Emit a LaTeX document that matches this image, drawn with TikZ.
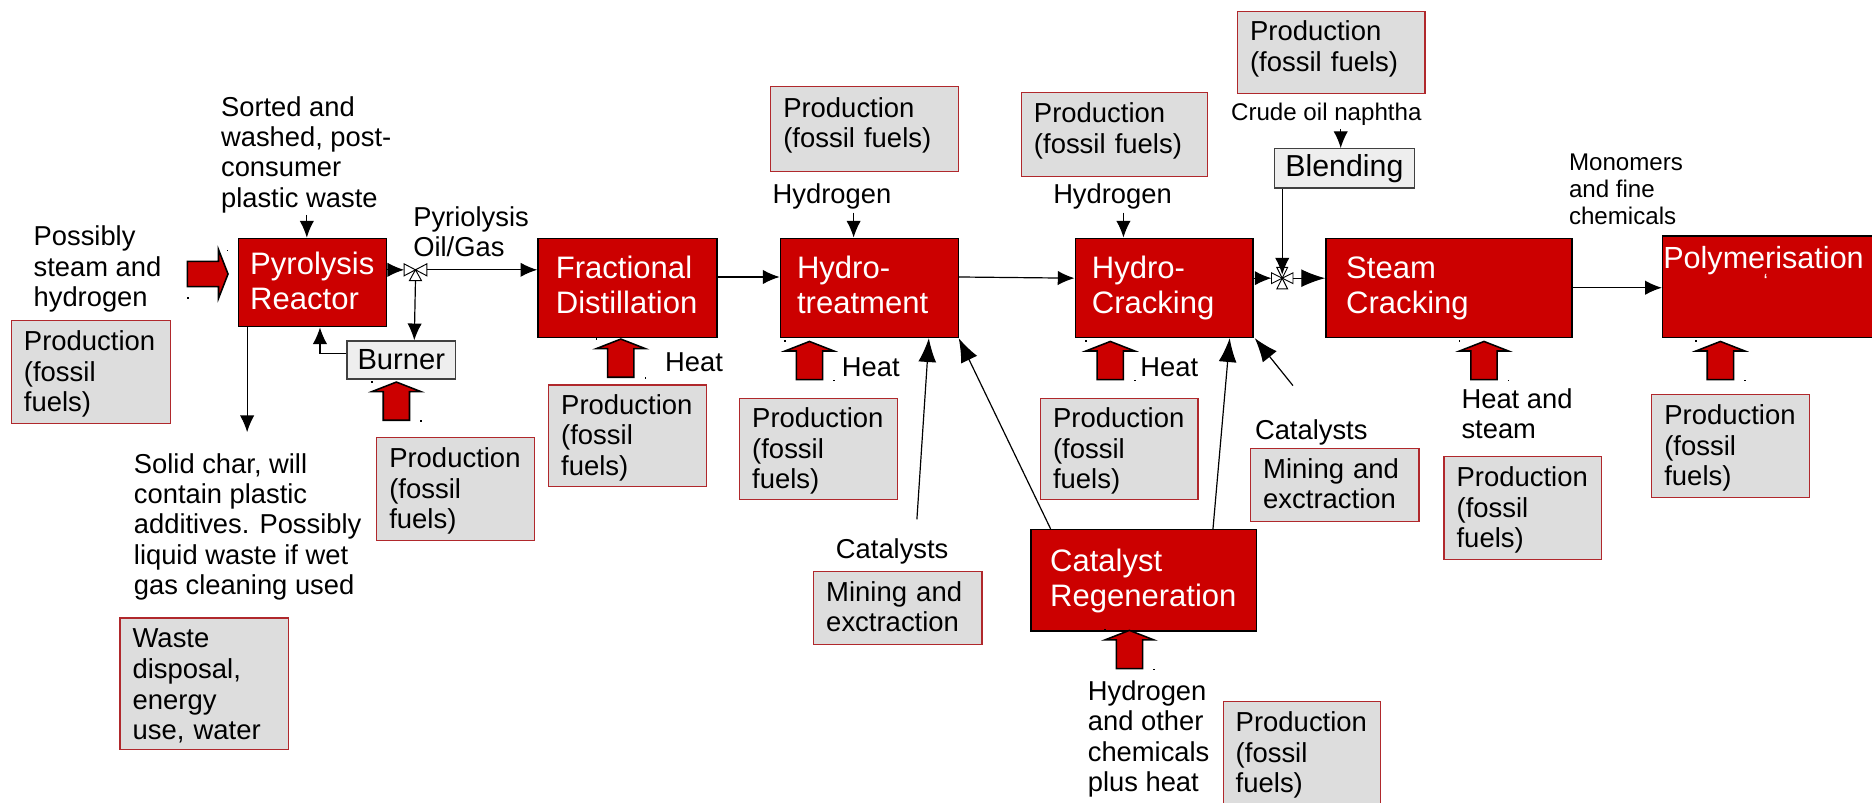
\documentclass[tikz,border=0pt]{standalone}
\usepackage{fontspec}
\setmainfont{Liberation Sans}
\usetikzlibrary{arrows.meta}
\definecolor{procred}{HTML}{CC0000}
\definecolor{prodgrey}{HTML}{DDDDDD}
\definecolor{prodedge}{HTML}{B0282C}
\definecolor{lightbox}{HTML}{EEEEEE}
\newcommand{\FT}[5][]{\node[txt,#1] (#2) at (#3,#4-18) {\rule{0pt}{18pt}#5};}
\newcommand{\FS}[5][]{\node[txtsmall,#1] (#2) at (#3,#4-16) {\rule{0pt}{16pt}#5};}
\newcommand{\RT}[3][20]{\rule{0pt}{#1pt}#2\\#3\rule[-6pt]{0pt}{6pt}}
\newcommand{\PThree}{\rule{0pt}{20pt}Production\\(fossil\\fuels)}
\newcommand{\PTwo}{Production\\(fossil fuels)\rule[-11pt]{0pt}{11pt}}
\tikzset{
  txt/.style={anchor=north west,inner sep=0pt,align=left,font=\fontsize{22.9}{25.5}\selectfont,text=black},
  txtsmall/.style={anchor=north west,inner sep=0pt,align=left,font=\fontsize{20.2}{22.4}\selectfont,text=black},
  redbox/.style n args={3}{anchor=north west,draw=black,fill=procred,line width=1.2pt,text=white,
    minimum height=#2pt,text width=#1pt-#3pt-#3pt,inner xsep=#3pt,inner ysep=0pt,align=left,
    font=\fontsize{26}{29}\selectfont},
  lightnode/.style n args={3}{anchor=north west,draw=black!75,fill=lightbox,line width=1.2pt,text=black,
    minimum width=#1pt,minimum height=#2pt,inner sep=0pt,font=\fontsize{#3}{29}\selectfont},
  prodbox/.style n args={2}{anchor=north west,draw=prodedge,fill=prodgrey,line width=1.1pt,text=black,
    minimum height=#2pt,text width=#1pt-21pt,inner xsep=10.5pt,inner ysep=0pt,align=left,
    font=\fontsize{23}{25.6}\selectfont},
  flow/.style={draw=black,line width=1pt,-{Latex[length=14pt,width=12pt]}},
  bigflow/.style={draw=black,line width=1pt,-{Latex[length=20pt,width=15pt]}},
  blockarrow/.style={draw=black,fill=procred,line width=1.3pt,line join=miter},
  valvepart/.style={draw=black,fill=white,line width=.8pt},
  tinydot/.style={fill=black,draw=none},
  upblock/.pic={
    \path[blockarrow] (-11,32)--(-11,8)--(-20.5,8)--(0,0)--(20.5,8)--(11,8)--(11,32)--cycle;
    \fill[tinydot] (-21,-.8) rectangle ++(1.2,1.2);
    \fill[tinydot] (20,32) rectangle ++(1.2,1.2);
  }
}
\begin{document}
\begin{tikzpicture}[x=1pt,y=-1pt]
\useasboundingbox (0,0) rectangle (1568,672);
\fill[white] (0,0) rectangle (1568,672);

% process boxes
\node[redbox={124}{74}{10}] (pyro) at (199,199) {\RT[22]{Pyrolysis}{Reactor}};
\node[redbox={150}{83}{15}] (frac) at (450,199) {\RT{Fractional}{Distillation}};
\node[redbox={149}{83}{14}] (hydrot) at (653,199) {\RT{Hydro-}{treatment}};
\node[redbox={149}{83}{14}] (hydroc) at (900,199) {\RT{Hydro-}{Cracking}};
\node[redbox={206}{83}{17}] (steam) at (1110,199) {\RT{Steam}{Cracking}};
\node[redbox={189}{85}{16}] (regen) at (863,443) {\RT{Catalyst}{Regeneration}};
\node[redbox={180}{85}{1}] (poly) at (1392,197) {};
\node[anchor=base west,inner sep=0pt,text=white,font=\fontsize{25.6}{29}\selectfont] (polytext) at (1393,225) {Polymerisation};
\node[anchor=base west,inner sep=0pt,text=white,font=\fontsize{16}{18}\selectfont] (polymark) at (1477,241) {`};
\node[lightnode={91}{32}{24.4}] (burner) at (290,285) {Burner};
\node[lightnode={117}{33}{25.4}] (blend) at (1067,124) {Blending\hspace{7pt}};

% production boxes
\node[prodbox={133}{86}] (p1) at (9,268) {\PThree};
\node[prodbox={132}{86}] (p2) at (315,366) {\PThree};
\node[prodbox={132}{85}] (p3) at (459,322) {\PThree};
\node[prodbox={132}{85}] (p4) at (619,333) {\PThree};
\node[prodbox={157}{71}] (p5) at (645,72) {\PTwo};
\node[prodbox={156}{70}] (p6) at (855,77) {\PTwo};
\node[prodbox={157}{69}] (p7) at (1036,9) {\PTwo};
\node[prodbox={132}{85}] (p8) at (871,333) {\PThree};
\node[prodbox={132}{86}] (p9) at (1209,382) {\PThree};
\node[prodbox={132}{86}] (p10) at (1383,330) {\PThree};
\node[prodbox={141}{61}] (m1) at (681,478) {Mining and\\exctraction\rule[-2pt]{0pt}{2pt}};
\node[prodbox={141}{61}] (m2) at (1047,375) {Mining and\\exctraction\rule[-2pt]{0pt}{2pt}};
\node[prodbox={141}{110}] (w1) at (100,517) {\rule{0pt}{20pt}Waste\\disposal,\\energy\\use, water};
\node[prodbox={132}{90}] (p11) at (1024,587) {Production\\(fossil\\fuels)};

% free text
\FT{possibly}{28}{205.5}{Possibly\\steam and\\hydrogen}
\FT{sorted}{185}{97}{Sorted and\\washed, post-\\consumer\\plastic waste}
\FT{pyriol}{346}{189.5}{Pyriolysis\\Oil/Gas}
\FT{solid}{112}{396}{Solid char, will\\contain plastic\\additives. Possibly\\liquid waste if wet\\gas cleaning used}
\FT{heatA}{557}{311}{Heat}
\FT{heatB}{705}{315}{Heat}
\FT{heatC}{955}{315}{Heat}
\FT{hydA}{647}{170}{Hydrogen}
\FT{hydB}{882}{170}{Hydrogen}
\FT{catA}{700}{468}{Catalysts}
\FT{catB}{1051}{368}{Catalysts}
\FT{heatD}{1224}{342}{Heat and\\steam}
\FT{hydC}{911}{586.5}{Hydrogen\\and other\\chemicals\\plus heat}
\FS{crude}{1031}{101}{Crude oil naphtha}
\FS{mono}{1314}{143}{Monomers\\and fine\\chemicals}

% valves
\coordinate (vA) at (348,226);
\coordinate (vB) at (1074,233);
\path[valvepart] (vA) -- ++(-9.5,-5) -- ++(0,10) -- cycle;
\path[valvepart] (vA) -- ++(9.5,-5) -- ++(0,10) -- cycle;
\path[valvepart] (vA) -- ++(-5,9) -- ++(10,0) -- cycle;
\path[valvepart] (vB) -- ++(-9,-4.5) -- ++(0,9) -- cycle;
\path[valvepart] (vB) -- ++(9,-4.5) -- ++(0,9) -- cycle;
\path[valvepart] (vB) -- ++(-4.5,9) -- ++(9,0) -- cycle;
\path[valvepart] (vB) -- ++(-4.5,-9) -- ++(9,0) -- cycle;

% free ends
\coordinate (sortedEnd) at (257,180);
\coordinate (hydAEnd) at (715,178);
\coordinate (hydBEnd) at (941,178);
\coordinate (crudeEnd) at (1123,108);
\coordinate (charEnd) at (207,362);
\coordinate (catAEnd) at (768,435);
\coordinate (catBEnd) at (1083,323);

% connectors
\draw[flow] (sortedEnd) -- (pyro.north -| sortedEnd);
\draw[flow] (hydAEnd) -- (hydrot.north -| hydAEnd);
\draw[flow] (hydBEnd) -- (hydroc.north -| hydBEnd);
\draw[flow] (crudeEnd) -- (blend.north -| crudeEnd);
\draw[flow] (pyro.south -| charEnd) -- (charEnd);
\draw[flow] (pyro.east |- vA) -- ([xshift=-9.5pt]vA);
\draw[flow] ([xshift=9.5pt]vA) -- (frac.west |- vA);
\draw[flow] ([yshift=-9pt]vA) -- (burner.north -| 347,0);
\draw[flow] (burner.west |- 0,296) -- (268,296) -- (pyro.south -| 268,0);
\draw[flow] (frac.east |- 0,232) -- (hydrot.west |- 0,232);
\draw[flow] (hydrot.east |- 0,232) -- (hydroc.west |- 0,233);
\draw[flow] (hydroc.east |- vB) -- ([xshift=-9pt]vB);
\draw[bigflow] ([xshift=9pt]vB) -- (steam.west |- vB);
\draw[flow] (blend.south -| vB) -- ([yshift=3pt]vB);
\draw[flow] (steam.east |- 0,241) -- (poly.west |- 0,241);
\draw[bigflow] (catAEnd) -- (hydrot.south -| 778,0);
\draw[bigflow] (regen.north -| 880,0) -- (hydrot.south -| 803,0);
\draw[bigflow] (regen.north -| 1016,0) -- (hydroc.south -| 1030,0);
\draw[bigflow] (catBEnd) -- (hydroc.south -| 1051,0);

% block arrows
\path[blockarrow] (157,219)--(183,219)--(183,209)--(191,229.5)--(183,250)--(183,240)--(157,240)--cycle;
\fill[tinydot] (190,209) rectangle ++(1.2,1.2);
\fill[tinydot] (157,249) rectangle ++(1.2,1.2);
\pic at (332,320) {upblock};
\pic at (520,284) {upblock};
\pic at (678,286) {upblock};
\pic at (930,286) {upblock};
\pic at (1243,286) {upblock};
\pic at (1441,286) {upblock};
\pic at (946,528) {upblock};
\end{tikzpicture}
\end{document}
